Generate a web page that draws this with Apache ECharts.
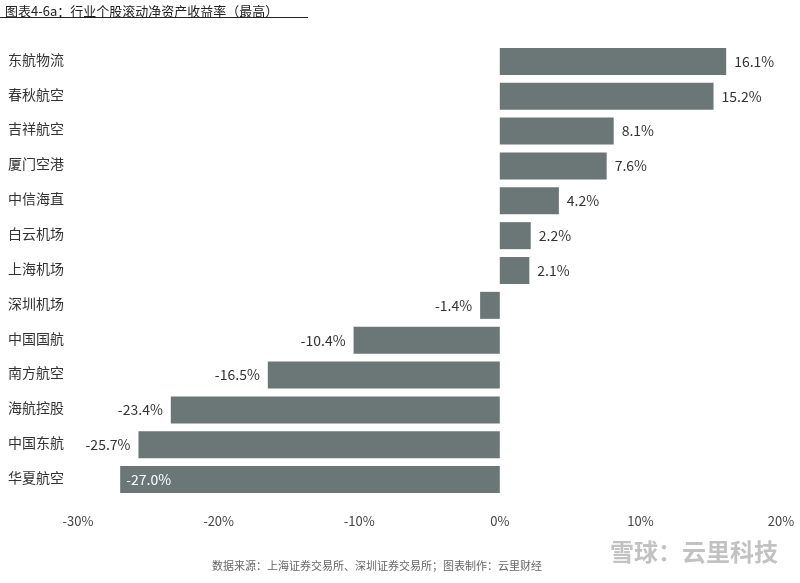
<!DOCTYPE html>
<html>
<head>
<meta charset="utf-8">
<script src="https://cdn.jsdelivr.net/npm/echarts@6/dist/echarts.min.js"></script>
<style>html,body{margin:0;padding:0;background:#fff;}#chart{width:800px;height:583px;}</style>
</head>
<body>
<div id="chart"></div>
<script>
var categories = ['东航物流', '春秋航空', '吉祥航空', '厦门空港', '中信海直', '白云机场', '上海机场', '深圳机场', '中国国航', '南方航空', '海航控股', '中国东航', '华夏航空'];
var values = [16.1, 15.2, 8.1, 7.6, 4.2, 2.2, 2.1, -1.4, -10.4, -16.5, -23.4, -25.7, -27.0];

var font = '"Noto Sans CJK SC", sans-serif';
var chart = echarts.init(document.getElementById('chart'));

var data = values.map(function (v, i) {
	var inside = i === values.length - 1;
	return {
		value: v,
		label: {
			position: inside ? 'insideLeft' : (v >= 0 ? 'right' : 'left'),
			color: inside ? '#fff' : '#333',
			distance: inside ? 6 : 8
		}
	};
});

option = {
	title: {
		text: '图表4-6a：行业个股滚动净资产收益率（最高）',
		left: 0,
		top: 0,
		textStyle: { fontFamily: font, fontSize: 13, fontWeight: 'normal', color: '#222' }
	},
	graphic: [
		{ type: 'rect', shape: { x: 0, y: 17, width: 308, height: 1 }, style: { fill: '#222' } },
		{ type: 'text', left: 212, top: 560, style: { text: '数据来源：上海证券交易所、深圳证券交易所；图表制作：云里财经', font: '11px ' + font, fill: '#666' } },
		{ type: 'text', left: 610, top: 540, style: { text: '雪球：云里科技', font: 'bold 24px ' + font, fill: 'rgba(120,120,120,0.45)' } }
	],
	grid: { left: 78, right: 19, top: 44, bottom: 86 },
	xAxis: {
		type: 'value',
		min: -30,
		max: 20,
		interval: 10,
		axisLine: { show: false },
		axisTick: { show: false },
		splitLine: { show: false },
		axisLabel: { formatter: '{value}%', fontFamily: font, fontSize: 13, color: '#444', margin: 18 }
	},
	yAxis: {
		type: 'category',
		inverse: true,
		data: categories,
		axisLine: { show: false },
		axisTick: { show: false },
		axisLabel: { show: false }
	},
	series: [{
		type: 'bar',
		barWidth: 27,
		itemStyle: { color: '#6b7677' },
		label: {
			show: true,
			fontFamily: font,
			fontSize: 14,
			formatter: function (p) { return p.value.toFixed(1) + '%'; }
		},
		data: data
	}]
};
// category names drawn at the left edge
option.graphic = option.graphic.concat(categories.map(function (c, i) {
	return { type: 'text', left: 8, top: 44 + (i + 0.5) * (453 / 13) - 9, style: { text: c, font: '14px ' + font, fill: '#333' } };
}));

chart.setOption(option);
</script>
</body>
</html>
